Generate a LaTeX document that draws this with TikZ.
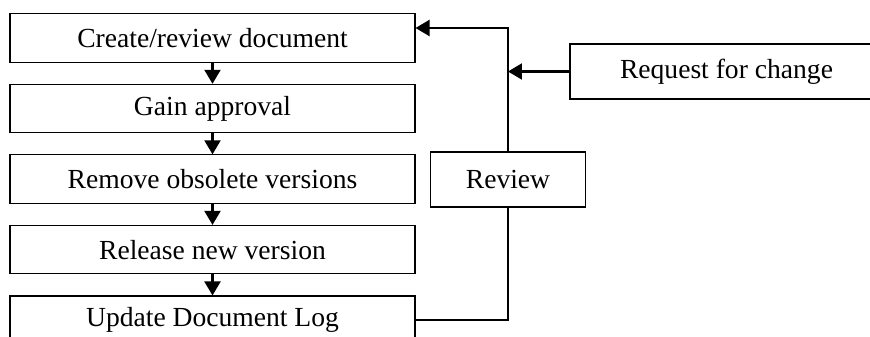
\documentclass[tikz,border=0pt]{standalone}
\usepackage{fontspec}
\setmainfont{Liberation Serif}
\usetikzlibrary{arrows.meta,positioning}

\begin{document}
\begin{tikzpicture}[->,>={Triangle[length=0.28cm,width=0.32cm]},node distance=0.42cm,
    font=\fontsize{15.7pt}{18pt}\selectfont,
    step box/.style={draw,line width=0.6pt,minimum width=8.1cm,minimum height=0.97cm,inner sep=0pt},
    side box/.style={draw,line width=1.1pt,minimum height=1.1cm,inner sep=0pt},
    link/.style={line width=1.2pt}]

  \useasboundingbox (0,0) rectangle (17.4,-6.72);

  \node[step box]          (create) at (4.25,-0.76) {Create/review document};
  \node[step box]          (approve) [below=of create] {Gain approval};
  \node[step box]          (remove) [below=of approve] {Remove obsolete versions};
  \node[step box]          (release) [below=of remove] {Release new version};
  \node[step box]          (update) [below=of release] {Update Document Log};
  \node[side box,minimum width=3.1cm]  (review) [right=0.28cm of remove] {Review};
  \node[side box,minimum width=6.26cm] (request) at (14.53,-1.43) {Request for change};
  \coordinate (turn) at (review.north |- 0,-0.56);

  \path (create) edge [link] (approve)
        (approve) edge [link] (remove)
        (remove) edge [link] (release)
        (release) edge [link] (update);

  \draw[link,-] (update.east) -| (review.south);
  \draw[link] (review.north) -- (turn) -- (turn -| create.east);
  \draw[link] (request.west) -- (request.west -| turn);

\end{tikzpicture}
\end{document}
